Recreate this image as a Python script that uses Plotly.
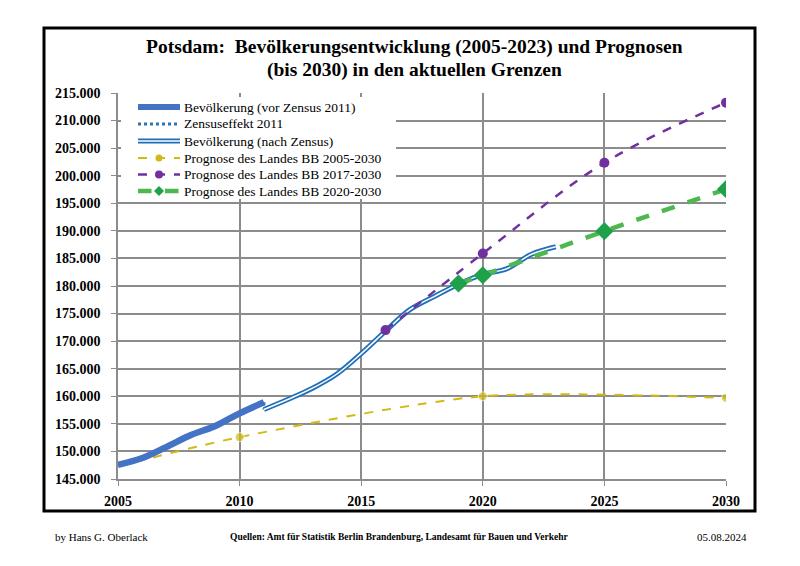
import plotly.graph_objects as go

# ---------------- data ----------------
years_vor = [2005, 2006, 2007, 2008, 2009, 2010, 2011]
pop_vor = [147583, 148813, 150833, 152966, 154606, 156906, 158902]

years_zensus = [2011, 2011]
pop_zensus = [158902, 157603]

years_nach = [2011, 2012, 2013, 2014, 2015, 2016, 2017, 2018, 2019, 2020, 2021, 2022, 2023]
pop_nach = [157603, 159456, 161468, 164042, 167745, 171810, 175710, 178089, 180334, 182112, 183154, 185750, 187119]

years_p05 = [2005, 2010, 2020, 2030]
pop_p05 = [147300, 152600, 160000, 159700]
marker_p05 = [0, 9, 9, 9]

years_p17 = [2016, 2020, 2025, 2030]
pop_p17 = [172000, 185900, 202350, 213250]

years_p20 = [2019, 2020, 2025, 2030]
pop_p20 = [180450, 181950, 189950, 197550]

y_ticks = list(range(145000, 215001, 5000))
y_ticklabels = [f"{v:,}".replace(",", ".") for v in y_ticks]
x_ticks = [2005, 2010, 2015, 2020, 2025, 2030]

title_line1 = "Potsdam:  Bevölkerungsentwicklung (2005-2023) und Prognosen"
title_line2 = "(bis 2030) in den aktuellen Grenzen"

legend_names = [
    "Bevölkerung (vor Zensus 2011)",
    "Zensuseffekt 2011",
    "Bevölkerung (nach Zensus)",
    "Prognose des Landes BB 2005-2030",
    "Prognose des Landes BB 2017-2030",
    "Prognose des Landes BB 2020-2030",
]

SERIF = "Liberation Serif, DejaVu Serif, serif"

C_VOR = "#4472C4"
C_ZEN = "#2E75B6"
C_NACH = "#1F6FB8"
C_P05 = "#D2BA14"
C_P17 = "#7030A0"
C_P20 = "#4DB84F"
C_P20M = "#1FA04A"

fig = go.Figure()

fig.add_trace(go.Scatter(
    x=years_p05, y=pop_p05, mode="lines+markers", name=legend_names[3],
    line=dict(color=C_P05, width=2, dash="dash", shape="spline", smoothing=0.75),
    marker=dict(color=C_P05, size=marker_p05, symbol="circle"),
))
fig.add_trace(go.Scatter(
    x=years_vor, y=pop_vor, mode="lines", name=legend_names[0],
    line=dict(color=C_VOR, width=6.5, shape="spline"),
))
fig.add_trace(go.Scatter(
    x=years_zensus, y=pop_zensus, mode="lines", name=legend_names[1],
    line=dict(color=C_ZEN, width=3, dash="dot"),
))
fig.add_trace(go.Scatter(
    x=years_nach, y=pop_nach, mode="lines", name=legend_names[2],
    line=dict(color=C_NACH, width=5, shape="spline"),
))
fig.add_trace(go.Scatter(
    x=years_nach, y=pop_nach, mode="lines", hoverinfo="skip",
    line=dict(color="#FFFFFF", width=1.5, shape="spline"),
))
fig.add_trace(go.Scatter(
    x=years_p17, y=pop_p17, mode="lines+markers", name=legend_names[4],
    line=dict(color=C_P17, width=2.5, dash="dash", shape="spline"),
    marker=dict(color=C_P17, size=10, symbol="circle"),
))
fig.add_trace(go.Scatter(
    x=years_p20, y=pop_p20, mode="lines+markers", name=legend_names[5],
    line=dict(color=C_P20, width=4.5, dash="dash", shape="spline"),
    marker=dict(color=C_P20M, size=14, symbol="diamond"),
))

# page is offset by the 8px body margin -> figure 792x558
FW, FH = 792, 558
L, R, T, B = 110, 74, 85, 87
pw, ph = FW - L - R, FH - T - B
OFF = 8


def px_x(p):
    return (p - OFF - L) / pw


def px_y(p):
    return (FH - B - (p - OFF)) / ph


fig.update_layout(
    width=FW, height=FH,
    margin=dict(l=L, r=R, t=T, b=B, autoexpand=False),
    paper_bgcolor="white", plot_bgcolor="white",
    font=dict(family=SERIF, color="black"),
    showlegend=False,
    xaxis=dict(range=[2005, 2030], tickvals=x_ticks, ticktext=[str(v) for v in x_ticks],
               showgrid=True, gridcolor="#8C8C8C", gridwidth=1.5,
               showline=True, linecolor="#8C8C8C", linewidth=1.5,
               ticks="outside", ticklen=5, tickcolor="#8C8C8C", zeroline=False,
               ticklabelstandoff=3,
               tickfont=dict(family=SERIF, size=14, color="black", weight="bold")),
    yaxis=dict(range=[145000, 215000], tickvals=y_ticks, ticktext=y_ticklabels,
               showgrid=True, gridcolor="#8C8C8C", gridwidth=1.5,
               showline=True, linecolor="#8C8C8C", linewidth=1.5,
               ticks="outside", ticklen=5, tickcolor="#8C8C8C", zeroline=False,
               ticklabelstandoff=8,
               tickfont=dict(family=SERIF, size=14, color="black", weight="bold")),
)

shapes = []
# outer frame
shapes.append(dict(type="rect", xref="paper", yref="paper",
                   x0=px_x(44), x1=px_x(755), y0=px_y(511), y1=px_y(28),
                   line=dict(color="black", width=3), fillcolor="rgba(0,0,0,0)", layer="below"))

# manual legend
shapes.append(dict(type="rect", xref="paper", yref="paper",
                   x0=px_x(121), x1=px_x(396), y0=px_y(199), y1=px_y(97),
                   line=dict(width=0), fillcolor="white", layer="above"))

ley = [107, 124, 141, 158, 174.5, 191]
lx0, lx1, ltx = 138, 180, 182
mx = (lx0 + lx1) / 2


def hline(y, color, width, dash="solid"):
    return dict(type="line", xref="paper", yref="paper",
                x0=px_x(lx0), x1=px_x(lx1), y0=px_y(y), y1=px_y(y),
                line=dict(color=color, width=width, dash=dash), layer="above")


def circ(y, r, color):
    return dict(type="circle", xref="paper", yref="paper",
                x0=px_x(mx - r), x1=px_x(mx + r), y0=px_y(y + r), y1=px_y(y - r),
                line=dict(width=0), fillcolor=color, layer="above")


def diamond(y, r, color):
    path = "M {a},{b} L {c},{d} L {e},{f} L {g},{h} Z".format(
        a=px_x(mx - r), b=px_y(y), c=px_x(mx), d=px_y(y - r),
        e=px_x(mx + r), f=px_y(y), g=px_x(mx), h=px_y(y + r))
    return dict(type="path", xref="paper", yref="paper", path=path,
                line=dict(width=0), fillcolor=color, layer="above")


shapes.append(hline(ley[0], C_VOR, 6))
shapes.append(hline(ley[1], C_ZEN, 3, "dot"))
shapes.append(hline(ley[2], C_NACH, 5))
shapes.append(hline(ley[2], "white", 1.5))
shapes.append(hline(ley[3], C_P05, 2, "dash"))
shapes.append(circ(ley[3], 3.5, C_P05))
shapes.append(hline(ley[4], C_P17, 2.5, "dash"))
shapes.append(circ(ley[4], 4, C_P17))
shapes.append(hline(ley[5], C_P20, 4.5, "dash"))
shapes.append(diamond(ley[5], 5, C_P20M))
fig.update_layout(shapes=shapes)

for name, y in zip(legend_names, ley):
    fig.add_annotation(text=name, xref="paper", yref="paper",
                       x=px_x(ltx), y=px_y(y), xanchor="left", yanchor="middle",
                       showarrow=False, font=dict(family=SERIF, size=13.5, color="black"))

# title
fig.add_annotation(text="<b>" + title_line1 + "</b>", xref="paper", yref="paper",
                   x=px_x(414), y=px_y(47), xanchor="center", yanchor="middle",
                   showarrow=False, font=dict(family=SERIF, size=19.5, color="black"))
fig.add_annotation(text="<b>" + title_line2 + "</b>", xref="paper", yref="paper",
                   x=px_x(414), y=px_y(70), xanchor="center", yanchor="middle",
                   showarrow=False, font=dict(family=SERIF, size=19.5, color="black"))

# footer
fig.add_annotation(text="by Hans G. Oberlack", xref="paper", yref="paper",
                   x=px_x(53), y=px_y(537), xanchor="left", yanchor="middle",
                   showarrow=False, font=dict(family=SERIF, size=11, color="black"))
fig.add_annotation(text="<b>Quellen: Amt für Statistik Berlin Brandenburg, Landesamt für Bauen und Verkehr</b>",
                   xref="paper", yref="paper",
                   x=px_x(399), y=px_y(537), xanchor="center", yanchor="middle",
                   showarrow=False, font=dict(family=SERIF, size=9.5, color="black"))
fig.add_annotation(text="05.08.2024", xref="paper", yref="paper",
                   x=px_x(749), y=px_y(537), xanchor="right", yanchor="middle",
                   showarrow=False, font=dict(family=SERIF, size=11, color="black"))

fig.write_html("out.html")
